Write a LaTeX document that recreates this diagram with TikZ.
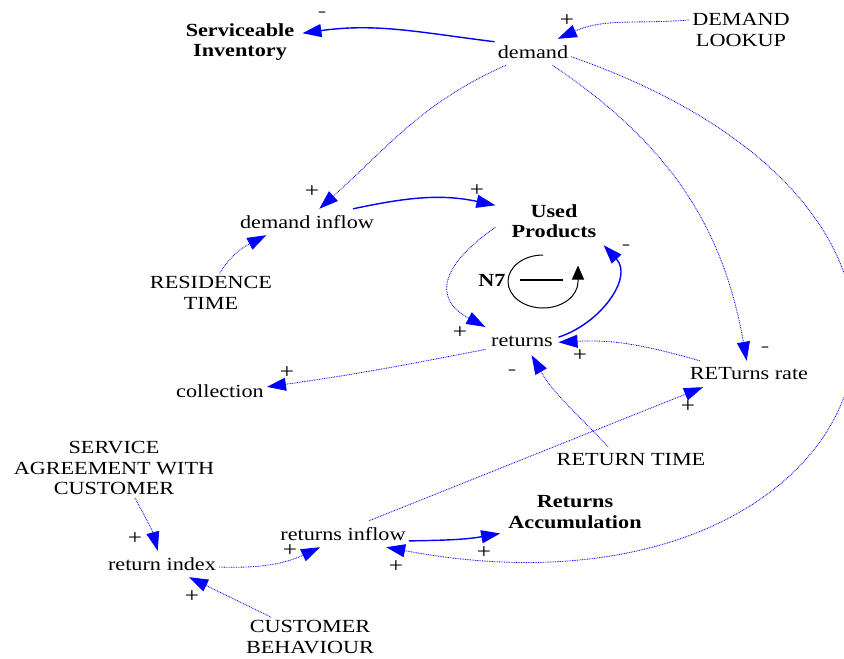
\documentclass[tikz,border=0pt]{standalone}
\usepackage{fontspec}
\setmainfont{Liberation Serif}[FakeStretch=1.2]
\usetikzlibrary{arrows.meta}

\begin{document}
\begin{tikzpicture}[x=1pt,y=1pt,
  every node/.style={font=\fontsize{18.5}{20.5}\selectfont, align=center, inner xsep=3pt, inner ysep=3pt},
  var/.style={minimum height=26pt},
  stock/.style={font=\fontsize{18.5}{20.5}\selectfont\bfseries, inner xsep=8pt, minimum height=48pt},
  sign/.style={font=\fontsize{21}{21}\selectfont, inner sep=0pt},
  neg/.style={sign, text=black!70},
  tip/.style={-{Triangle[length=19pt,width=13pt]}},
  link/.style={tip, blue, line width=0.85pt, dash pattern=on 0.8pt off 0.9pt},
  flowlink/.style={tip, blue, line width=1.4pt},
]
% canvas
\fill[white] (0,0) rectangle (844,-659);
\useasboundingbox (0,0) rectangle (844,-659);

% stocks
\node[stock] (SI) at (240,-42) {Serviceable\\Inventory};
\node[stock, inner xsep=16pt] (UP) at (554,-221) {Used\\Products};
\node[stock] (RA) at (575,-512) {Returns\\Accumulation};

% variables
\node[var] (dem) at (533,-52) {demand};
\node (DL) at (741,-30) {DEMAND\\LOOKUP};
\node[var] (DI) at (307,-222) {demand inflow};
\node (RT) at (211,-293) {RESIDENCE\\TIME};
\node[var, inner xsep=5.5pt, minimum height=28pt] (ret) at (522,-341) {returns};
\node[var] (col) at (220,-391) {collection};
\node[var] (RR) at (749,-374) {RETurns rate};
\node[var] (RTIME) at (631,-460) {RETURN TIME};
\node (SA) at (114,-468) {SERVICE\\AGREEMENT WITH\\CUSTOMER};
\node[var] (RI) at (162,-564) {return index};
\node[var] (RIF) at (343,-534) {returns inflow};
\node (CB) at (310,-637) {CUSTOMER\\BEHAVIOUR};

% flows
\draw[flowlink] (dem.165) to[out=173,in=8] (SI.8);
\draw[flowlink] (DI.16) to[out=12,in=168] (UP.165);
\draw[flowlink] (ret.6) to[out=18,in=-47,looseness=1.1] (UP.-26);
\draw[flowlink] (RIF.-6) to[out=1,in=190] (RA.196);

% causal links
\draw[link] (DL.169) to[out=185,in=24] (dem.28);
\draw[link] (dem.206) to[out=204,in=42] (DI.47);
\draw[link] (dem.-34) to[out=-34,in=100] (RR.100);
\draw[link] (dem.-7) .. controls +(485,-170) and +(480,-90) .. (RIF.-17);
\draw[link] (RT.66) to[out=59,in=207] (DI.198);
\draw[link] (UP.186) to[out=215,in=152,looseness=1.6] (ret.159);
\draw[link] (RR.165) to[out=164,in=3] (ret.-2);
\draw[link] (RTIME.150) to[out=133,in=-60] (ret.-56);
\draw[link] (ret.193) to[out=191,in=8] (col.5);
\draw[link] (RIF.27) -- (RR.196);
\draw[link] (SA.-55) to[out=-62,in=105] (RI.108);
\draw[link] (CB.153) -- (RI.-26);
\draw[link] (RI.-3) to[out=-2,in=205] (RIF.210);

% link polarities
\node[neg]  (s1)  at (322,-15)  {-};
\node[sign] (s2)  at (567,-21)  {+};
\node[sign] (s3)  at (312,-192) {+};
\node[neg]  (s4)  at (765,-350) {-};
\node[sign] (s5)  at (396,-567) {+};
\node[sign] (s6)  at (477,-191) {+};
\node[sign] (s8)  at (460,-333) {+};
\node[neg]  (s9)  at (626,-248) {-};
\node[sign] (s10) at (580,-356) {+};
\node[neg]  (s11) at (512,-373) {-};
\node[sign] (s12) at (287,-373) {+};
\node[sign] (s13) at (688,-407) {+};
\node[sign] (s14) at (135,-539) {+};
\node[sign] (s15) at (192,-597) {+};
\node[sign] (s16) at (290,-551) {+};
\node[sign] (s17) at (484,-553) {+};

% balancing loop N7
\node[font=\fontsize{18.5}{20.5}\selectfont\bfseries] (N7) at (492,-280) {N7};
\coordinate (L7) at (543,-281.5);
\draw[line width=1pt, -{Triangle[length=14pt,width=12pt]}]
  ([yshift=26.5pt]L7) arc[start angle=90, end angle=360, x radius=35, y radius=26.5] -- ++(0,16);
\draw[line width=2pt] ([xshift=-23pt,yshift=1.5pt]L7) -- ++(43,0);
\end{tikzpicture}
\end{document}
